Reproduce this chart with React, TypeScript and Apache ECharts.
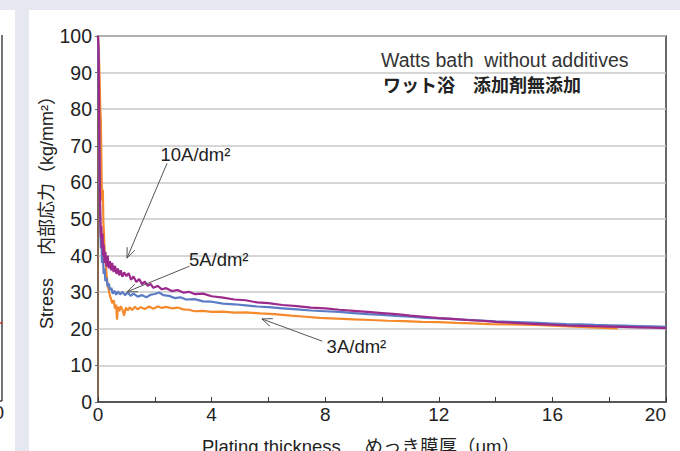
import React, { useEffect, useRef } from "react";
import * as echarts from "echarts";

// Plating thickness (µm) vs internal stress (kg/mm²)
const series10A: [number, number][] = [
  [0, 100], [0.02, 96], [0.04, 80], [0.06, 62], [0.08, 52], [0.1, 45], [0.12, 48], [0.14, 42],
  [0.16, 46], [0.18, 40], [0.2, 43], [0.23, 38], [0.26, 41], [0.3, 37], [0.34, 40], [0.38, 36.5],
  [0.42, 38.5], [0.46, 36], [0.5, 38], [0.55, 35.5], [0.6, 37.2], [0.65, 35], [0.7, 36.5],
  [0.75, 34.6], [0.8, 36], [0.86, 34.2], [0.92, 35.4], [1.0, 34.4], [1.08, 35.2], [1.16, 33.4],
  [1.25, 34.3], [1.35, 32.8], [1.45, 33.6], [1.55, 32.2], [1.65, 32.9], [1.75, 31.7], [1.85, 32.3],
  [1.95, 31.2], [2.1, 31.7], [2.25, 30.8], [2.4, 31.1], [2.6, 30.3], [2.8, 30.6], [3.0, 29.9],
  [3.2, 30.1], [3.4, 29.5], [3.7, 29.6], [4.0, 28.9], [4.4, 28.5], [4.8, 28.0], [5.2, 27.8],
  [5.6, 27.2], [6.0, 27.0], [6.5, 26.5], [7.0, 26.2], [7.5, 25.8], [8.0, 25.6], [8.5, 25.2],
  [9.0, 24.9], [9.5, 24.6], [10.0, 24.3], [10.5, 24.0], [11.0, 23.6], [11.5, 23.3], [12.0, 22.9],
  [12.5, 22.7], [13.0, 22.4], [13.5, 22.2], [14.0, 21.9], [14.5, 21.7], [15.0, 21.5], [15.5, 21.3],
  [16.0, 21.1], [16.5, 20.9], [17.0, 20.8], [17.5, 20.7], [18.0, 20.6], [18.5, 20.5], [19.0, 20.4],
  [19.5, 20.3], [20.0, 20.2],
];

const series5A: [number, number][] = [
  [0, 100], [0.02, 90], [0.04, 72], [0.06, 58], [0.08, 48], [0.1, 42], [0.12, 44], [0.14, 38],
  [0.17, 40], [0.2, 35], [0.23, 36.5], [0.26, 33], [0.3, 34], [0.34, 31.5], [0.38, 32.4],
  [0.42, 30.6], [0.47, 31.2], [0.52, 29.6], [0.58, 30.4], [0.64, 29.3], [0.7, 30.2], [0.78, 29.4],
  [0.86, 30.1], [0.95, 29.2], [1.05, 29.9], [1.15, 29.0], [1.25, 29.6], [1.4, 28.8], [1.55, 29.2],
  [1.7, 28.6], [1.85, 29.3], [2.0, 29.5], [2.15, 29.9], [2.3, 29.2], [2.5, 29.0], [2.7, 28.4],
  [2.9, 28.6], [3.1, 28.0], [3.4, 28.1], [3.7, 27.5], [4.0, 27.4], [4.4, 26.9], [4.8, 26.7],
  [5.2, 26.4], [5.6, 26.1], [6.0, 25.9], [6.5, 25.6], [7.0, 25.3], [7.5, 25.0], [8.0, 24.8],
  [8.5, 24.6], [9.0, 24.3], [9.5, 24.0], [10.0, 23.8], [10.5, 23.5], [11.0, 23.3], [11.5, 23.0],
  [12.0, 22.85], [12.5, 22.65], [13.0, 22.45], [13.5, 22.25], [14.0, 22.05], [14.5, 21.9],
  [15.0, 21.75], [15.5, 21.6], [16.0, 21.45], [16.5, 21.3], [17.0, 21.2], [17.5, 21.05],
  [18.0, 20.95], [18.5, 20.85], [19.0, 20.75], [19.5, 20.65], [20.0, 20.55],
];

const series3A: [number, number][] = [
  [0, 100], [0.03, 95], [0.06, 88], [0.08, 80], [0.1, 77], [0.12, 66], [0.13, 60], [0.15, 55],
  [0.17, 58], [0.19, 49], [0.21, 46], [0.24, 40], [0.27, 38], [0.3, 35], [0.34, 32], [0.38, 30.5],
  [0.42, 29], [0.46, 28.2], [0.5, 27], [0.55, 27.8], [0.6, 25.5], [0.64, 26.6], [0.67, 22.5],
  [0.7, 26], [0.75, 24.8], [0.8, 26.2], [0.86, 25.2], [0.92, 23.6], [0.98, 25.8], [1.05, 25.0],
  [1.12, 25.9], [1.2, 25.1], [1.3, 26.0], [1.4, 25.3], [1.5, 25.9], [1.65, 25.4], [1.8, 26.1],
  [1.95, 25.5], [2.1, 26.1], [2.25, 25.7], [2.4, 26.0], [2.6, 25.6], [2.8, 25.8], [3.0, 25.3],
  [3.2, 25.2], [3.4, 24.8], [3.7, 24.9], [4.0, 24.6], [4.4, 24.7], [4.8, 24.4], [5.2, 24.5],
  [5.7, 24.2], [6.2, 24.0], [6.8, 23.6], [7.3, 23.3], [7.8, 23.0], [8.4, 22.8], [9.0, 22.6],
  [9.6, 22.4], [10.2, 22.2], [10.8, 22.1], [11.4, 21.9], [12.0, 21.8], [12.6, 21.6], [13.2, 21.5],
  [13.8, 21.3], [14.4, 21.2], [15.0, 21.1], [15.6, 21.0], [16.2, 20.8], [16.8, 20.6], [17.4, 20.4],
  [18.0, 20.2], [18.3, 20.1],
];

const seriesNames = ["3A/dm²", "5A/dm²", "10A/dm²"];
const seriesColors = ["#f48a2c", "#5b7cc4", "#9c2a8c"];
const xTickValues = [0, 4, 8, 12, 16, 20];
const yTickValues = [0, 10, 20, 30, 40, 50, 60, 70, 80, 90, 100];
const titleLines = ["Watts bath  without additives", "ワット浴　添加剤無添加"];
const xAxisTitle = "Plating thickness　 めっき膜厚（μm）";
const yAxisTitle = "Stress　 内部応力（kg/mm²）";

// annotation: label, label anchor [x, y], arrow tail [x, y], arrow head [x, y]
const annotationLabels = ["10A/dm²", "5A/dm²", "3A/dm²"];
const annotationTextAt: [number, number][] = [[2.2, 67.5], [3.2, 38.8], [8.05, 15.3]];
const annotationTail: [number, number][] = [[2.43, 65.2], [3.22, 37.1], [7.9, 16.6]];
const annotationHead: [number, number][] = [[1.02, 39.3], [1.02, 30.1], [5.77, 22.7]];

const LATIN = "'Liberation Sans', Arial, Helvetica, sans-serif";
const CJK = "'Liberation Sans', 'Noto Sans CJK JP', sans-serif";

export default function App() {
  const ref = useRef<HTMLDivElement>(null);
  useEffect(() => {
    if (!ref.current) return;
    const chart = echarts.init(ref.current, undefined, { renderer: "svg" });
    const data = [series3A, series5A, series10A];
    chart.setOption({
      animation: false,
      grid: {
        left: 98, right: 14, top: 36, bottom: 49, show: true,
        borderColor: "#3a3a3a", borderWidth: 1.5, backgroundColor: "transparent",
      },
      xAxis: {
        type: "value", min: xTickValues[0], max: xTickValues[xTickValues.length - 1], interval: 4,
        axisLine: { show: true, lineStyle: { color: "#3a3a3a", width: 1.5 } },
        axisTick: { show: true, inside: true, length: 5, lineStyle: { color: "#3a3a3a" } },
        minorTick: { show: true, splitNumber: 2, length: 5, lineStyle: { color: "#3a3a3a" } },
        splitLine: { show: false },
        axisLabel: {
          color: "#222", fontSize: 19, fontFamily: LATIN, margin: 3,
          alignMaxLabel: "right",
        },
      },
      yAxis: {
        type: "value", min: yTickValues[0], max: yTickValues[yTickValues.length - 1], interval: 10,
        axisLine: { show: true, lineStyle: { color: "#8a6446", width: 1.5 } },
        axisTick: { show: true, length: 3, lineStyle: { color: "#666" } },
        splitLine: { show: true, lineStyle: { color: "#c9c9c9", width: 1.5 } },
        axisLabel: { color: "#222", fontSize: 19.5, fontFamily: LATIN, margin: 6 },
      },
      series: data.map((d, i) => ({
        name: seriesNames[i], type: "line", data: d, showSymbol: false, symbol: "none",
        lineStyle: { color: seriesColors[i], width: 2.2 }, z: 2 + i,
      })),
    });

    const px = (p: [number, number]) => chart.convertToPixel({ gridIndex: 0 }, p) as number[];
    const graphics: any[] = [];
    annotationLabels.forEach((label, i) => {
      const t = px(annotationTextAt[i]);
      const a = px(annotationTail[i]);
      const h = px(annotationHead[i]);
      graphics.push({
        type: "text", x: t[0], y: t[1], z: 20,
        style: { text: label, fill: "#222", font: `18.5px ${LATIN}`, textAlign: "left", textVerticalAlign: "middle" },
      });
      graphics.push({
        type: "line", z: 20,
        shape: { x1: a[0], y1: a[1], x2: h[0], y2: h[1] },
        style: { stroke: "#555", lineWidth: 1 },
      });
      const ang = Math.atan2(a[1] - h[1], a[0] - h[0]);
      const len = 11, spread = 0.38;
      graphics.push({
        type: "polyline", z: 20,
        shape: {
          points: [
            [h[0] + len * Math.cos(ang + spread), h[1] + len * Math.sin(ang + spread)],
            [h[0], h[1]],
            [h[0] + len * Math.cos(ang - spread), h[1] + len * Math.sin(ang - spread)],
          ],
        },
        style: { stroke: "#555", lineWidth: 1, fill: "none" },
      });
    });
    graphics.push(
      { type: "text", x: 381, y: 60, z: 20, style: { text: titleLines[0], fill: "#333", font: `19.5px ${LATIN}`, textVerticalAlign: "middle" } },
      { type: "text", x: 383, y: 86, z: 20, style: { text: titleLines[1], fill: "#222", font: `bold 18px ${CJK}`, textVerticalAlign: "middle" } },
      { type: "text", x: 361, y: 446, z: 20, style: { text: xAxisTitle, fill: "#222", font: `18.5px ${CJK}`, textAlign: "center", textVerticalAlign: "middle" } },
      { type: "text", x: 47, y: 208, rotation: Math.PI / 2, z: 20, style: { text: yAxisTitle, fill: "#222", font: `18px ${CJK}`, textAlign: "center", textVerticalAlign: "middle" } },
      // left neighbouring panel fragment
      { type: "line", z: 20, shape: { x1: 2, y1: 35, x2: 2, y2: 401 }, style: { stroke: "#444", lineWidth: 1.5 } },
      { type: "line", z: 20, shape: { x1: 0, y1: 401, x2: 2, y2: 401 }, style: { stroke: "#444", lineWidth: 1.5 } },
      { type: "line", z: 20, shape: { x1: 0, y1: 323, x2: 3, y2: 323 }, style: { stroke: "#c0392b", lineWidth: 1.5 } },
      { type: "text", x: 4, y: 412, z: 20, style: { text: "0", fill: "#222", font: `19px ${LATIN}`, textAlign: "right", textVerticalAlign: "middle" } },
    );
    chart.setOption({ graphic: graphics });
    return () => chart.dispose();
  }, []);

  return (
    <div style={{ position: "fixed", left: 0, top: 0, width: 680, height: 451, background: "#e5e7f1", overflow: "hidden" }}>
      <div style={{ position: "absolute", left: 0, top: 10, width: 15, height: 441, background: "#fff" }} />
      <div style={{ position: "absolute", left: 29, top: 10, width: 651, height: 441, background: "#fff" }} />
      <div ref={ref} style={{ position: "absolute", left: 0, top: 0, width: 680, height: 451 }} />
    </div>
  );
}
